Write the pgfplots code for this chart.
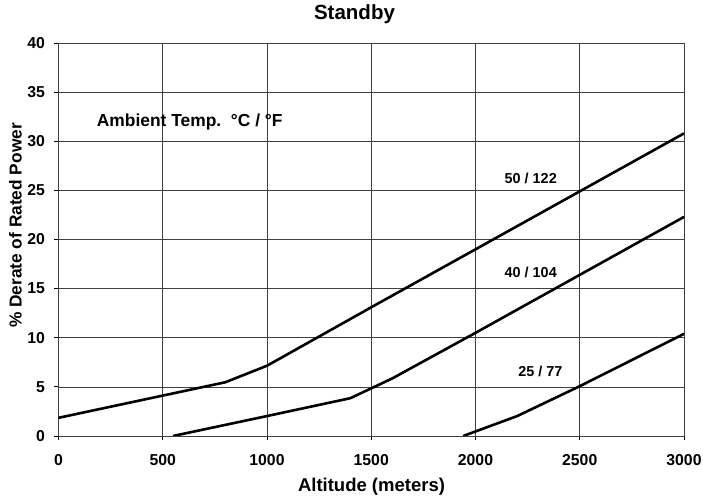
\documentclass[border=0pt]{standalone}
\usepackage{fontspec}
\setmainfont{Liberation Sans}
\usepackage{pgfplots}
\pgfplotsset{compat=1.18}
\begin{document}
\begin{tikzpicture}
\path[use as bounding box] (-58.5bp,-64bp) rectangle (644.5bp,436bp);
\begin{axis}[
  at={(0,0)}, anchor=south west,
  scale only axis, width=625.5bp, height=393bp,
  xmin=0, xmax=3000, ymin=0, ymax=40,
  xtick={0,500,...,3000}, ytick={0,5,...,40},
  grid=major, major grid style={line width=0.6bp, draw=black!75},
  axis line style={line width=0.8bp, draw=black!75},
  tick style={line width=0.8bp, draw=black},
  tick align=outside, tick pos=left, major tick length=4bp,
  /pgf/number format/1000 sep={},
  /pgf/number format/assume math mode=true,
  tick label style={font=\fontsize{15.8bp}{15.8bp}\selectfont\bfseries},
  xticklabel style={yshift=-11bp},
  yticklabel style={xshift=-6bp},
  clip=true,
]
\addplot[black, line width=2.6bp] coordinates {(0,1.85) (800,5.47) (1000,7.15) (1500,13.1) (2000,19.0) (2500,24.9) (3000,30.8)};
\addplot[black, line width=2.6bp] coordinates {(549,0) (1000,2.03) (1400,3.85) (1600,5.85) (2000,10.5) (2500,16.4) (3000,22.3)};
\addplot[black, line width=2.6bp] coordinates {(1941,0) (2200,2.03) (2500,5.07) (3000,10.4)};
\node[anchor=west, inner sep=0pt, font=\fontsize{17.4bp}{17.4bp}\selectfont\bfseries] at (axis cs:183,32.0) {Ambient Temp.\ \ °C / °F};
\node[inner sep=0pt, font=\fontsize{14.4bp}{14.4bp}\selectfont\bfseries] at (axis cs:2265,26.2) {50 / 122};
\node[inner sep=0pt, font=\fontsize{14.4bp}{14.4bp}\selectfont\bfseries] at (axis cs:2265,16.6) {40 / 104};
\node[inner sep=0pt, font=\fontsize{14.4bp}{14.4bp}\selectfont\bfseries] at (axis cs:2311,6.55) {25 / 77};
\end{axis}
\node[inner sep=0pt, font=\fontsize{20.5bp}{20.5bp}\selectfont\bfseries] at (296bp,422bp) {Standby};
\node[inner sep=0pt, font=\fontsize{18.5bp}{18.5bp}\selectfont\bfseries] at (313bp,-51bp) {Altitude (meters)};
\node[inner sep=0pt, rotate=90, font=\fontsize{17.3bp}{17.3bp}\selectfont\bfseries] at (-43bp,210.5bp) {\% Derate of Rated Power};
\end{tikzpicture}
\end{document}
